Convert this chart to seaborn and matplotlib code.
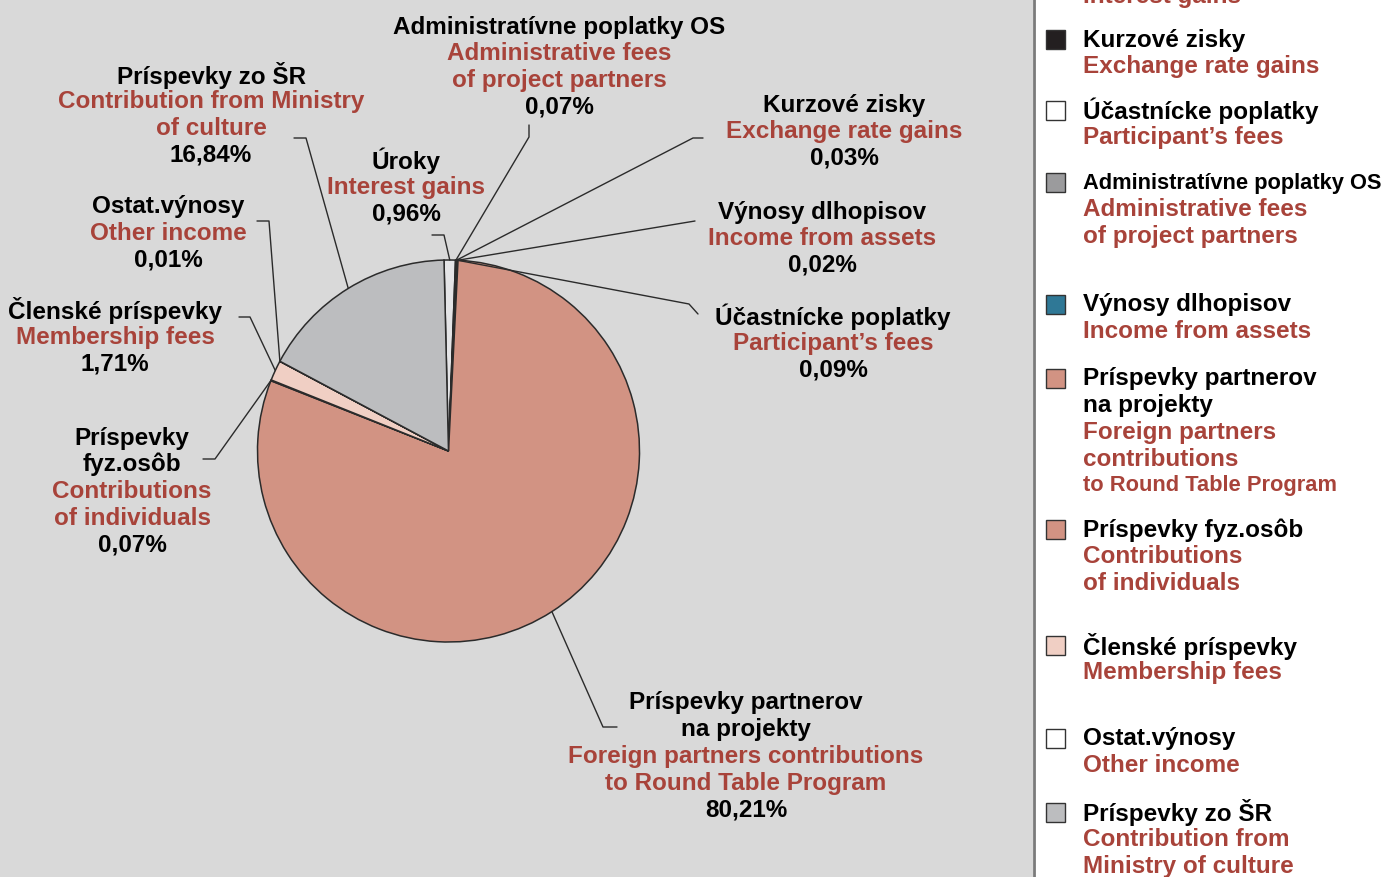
import numpy as np
import matplotlib
matplotlib.use("Agg")
import matplotlib.pyplot as plt
from matplotlib.patches import Rectangle
import seaborn as sns

# Data (clockwise from 12 o'clock)
sk_names = ["Úroky", "Administratívne poplatky OS", "Kurzové zisky", "Účastnícke poplatky",
            "Výnosy dlhopisov", "Príspevky partnerov na projekty", "Príspevky fyz.osôb",
            "Členské príspevky", "Ostat.výnosy", "Príspevky zo ŠR"]
en_names = ["Interest gains", "Administrative fees of project partners", "Exchange rate gains",
            "Participant’s fees", "Income from assets",
            "Foreign partners contributions to Round Table Program",
            "Contributions of individuals", "Membership fees", "Other income",
            "Contribution from Ministry of culture"]
shares = [0.96, 0.07, 0.03, 0.09, 0.02, 80.21, 0.07, 1.71, 0.01, 16.84]
slice_colors = ["#e4e4e6", "#9b9b9d", "#231f20", "#ffffff", "#2f7896",
                "#d29383", "#a53c32", "#f0cfc4", "#ffffff", "#bcbdbf"]
legend_colors = ["#e4e4e6", "#9b9b9d", "#231f20", "#ffffff", "#2f7896",
                 "#d29383", "#d29383", "#f0cfc4", "#ffffff", "#bcbdbf"]

# label text broken into lines (black Slovak, red English)
pie_sk_lines = [["Úroky"], ["Administratívne poplatky OS"], ["Kurzové zisky"], ["Účastnícke poplatky"],
                ["Výnosy dlhopisov"], ["Príspevky partnerov", "na projekty"], ["Príspevky", "fyz.osôb"],
                ["Členské príspevky"], ["Ostat.výnosy"], ["Príspevky zo ŠR"]]
pie_en_lines = [["Interest gains"], ["Administrative fees", "of project partners"], ["Exchange rate gains"],
                ["Participant’s fees"], ["Income from assets"],
                ["Foreign partners contributions", "to Round Table Program"],
                ["Contributions", "of individuals"], ["Membership fees"], ["Other income"],
                ["Contribution from Ministry", "of culture"]]
legend_sk_lines = [["Úroky"], ["Administratívne poplatky OS"], ["Kurzové zisky"], ["Účastnícke poplatky"],
                   ["Výnosy dlhopisov"], ["Príspevky partnerov", "na projekty"], ["Príspevky fyz.osôb"],
                   ["Členské príspevky"], ["Ostat.výnosy"], ["Príspevky zo ŠR"]]
legend_en_lines = [["Interest gains"], ["Administrative fees", "of project partners"], ["Exchange rate gains"],
                   ["Participant’s fees"], ["Income from assets"],
                   ["Foreign partners", "contributions", "to Round Table Program"],
                   ["Contributions", "of individuals"], ["Membership fees"], ["Other income"],
                   ["Contribution from", "Ministry of culture"]]
legend_order = [0, 2, 3, 1, 4, 5, 6, 7, 8, 9]

# layout (pixels, y down)
W, H = 1385, 878
CX, CY, R = 448.5, 452, 191
LINE = 26.7
label_pos = {0: (406, 161), 1: (559, 27), 2: (844, 105), 3: (833, 317), 4: (822, 212),
             5: (746, 703), 6: (132, 438), 7: (115, 311), 8: (168, 207), 9: (211, 75)}
leader_stub = {0: [(432, 236), (444, 236)], 1: [(529, 126), (529, 138)],
               2: [(703, 139), (693, 139)], 3: [(698, 315), (689, 305)],
               4: [(695, 222)], 5: [(617, 728), (603, 728)], 6: [(203, 460), (215, 460)],
               7: [(239, 318), (250, 318)], 8: [(257, 222), (269, 222)], 9: [(294, 139), (306, 139)]}
legend_y = {0: -30, 2: 40, 3: 111, 1: 183, 4: 305, 5: 379, 6: 530, 7: 646, 8: 739, 9: 813}

BLACK = "#000000"
RED = "#a8433a"

sns.set_theme(style="white")
plt.rcParams['font.family'] = ['Liberation Sans', 'DejaVu Sans']
plt.rcParams['font.weight'] = 'bold'
FS = 17.5
FS_LONG = 15.75  # long legend lines are set tighter in the original


def Y(py):
    return H - py


fig = plt.figure(figsize=(13.85, 8.78), dpi=100, facecolor="white")
ax = fig.add_axes([0, 0, 1, 1])

ax.add_patch(Rectangle((0, 0), 1033, H, facecolor="#d9d9d9", edgecolor="none", zorder=0))
ax.plot([1034.5, 1034.5], [0, H], color="#7a7a7a", lw=2, zorder=0)

wedges, _ = ax.pie(shares, colors=slice_colors, startangle=91.35, counterclock=False,
                   radius=R, center=(CX, Y(CY)),
                   wedgeprops=dict(edgecolor="#2b2b2b", linewidth=1.1))

ax.set_xlim(0, W)
ax.set_ylim(0, H)
ax.set_aspect("equal")
ax.axis("off")


def fmt(v):
    return f"{v:.2f}".replace(".", ",") + "%"


# pie labels and leader lines
for i, w in enumerate(wedges):
    x0, y0 = label_pos[i]
    lines = [(t, BLACK) for t in pie_sk_lines[i]] + [(t, RED) for t in pie_en_lines[i]] + [(fmt(shares[i]), BLACK)]
    for k, (t, c) in enumerate(lines):
        ax.text(x0, Y(y0 + k * LINE), t, color=c, fontsize=FS, fontweight="bold",
                ha="center", va="center", zorder=5)
    mid = np.deg2rad((w.theta1 + w.theta2) / 2)
    px = w.center[0] + R * np.cos(mid)
    py = w.center[1] + R * np.sin(mid)
    pts = [(x, Y(y)) for x, y in leader_stub[i]] + [(px, py)]
    ax.plot([p[0] for p in pts], [p[1] for p in pts], color="#2b2b2b", lw=1, zorder=4)

# legend
for i in legend_order:
    y0 = legend_y[i]
    ax.add_patch(Rectangle((1046, Y(y0) - 9.5), 19, 19, facecolor=legend_colors[i],
                           edgecolor="#333333", lw=1, zorder=3))
    lines = [(t, BLACK) for t in legend_sk_lines[i]] + [(t, RED) for t in legend_en_lines[i]]
    for k, (t, c) in enumerate(lines):
        fs = FS_LONG if len(t) > 20 else FS
        ax.text(1083, Y(y0 + k * LINE), t, color=c, fontsize=fs, fontweight="bold",
                ha="left", va="center", zorder=5)

fig.savefig("out.png", dpi=100, facecolor="white")
